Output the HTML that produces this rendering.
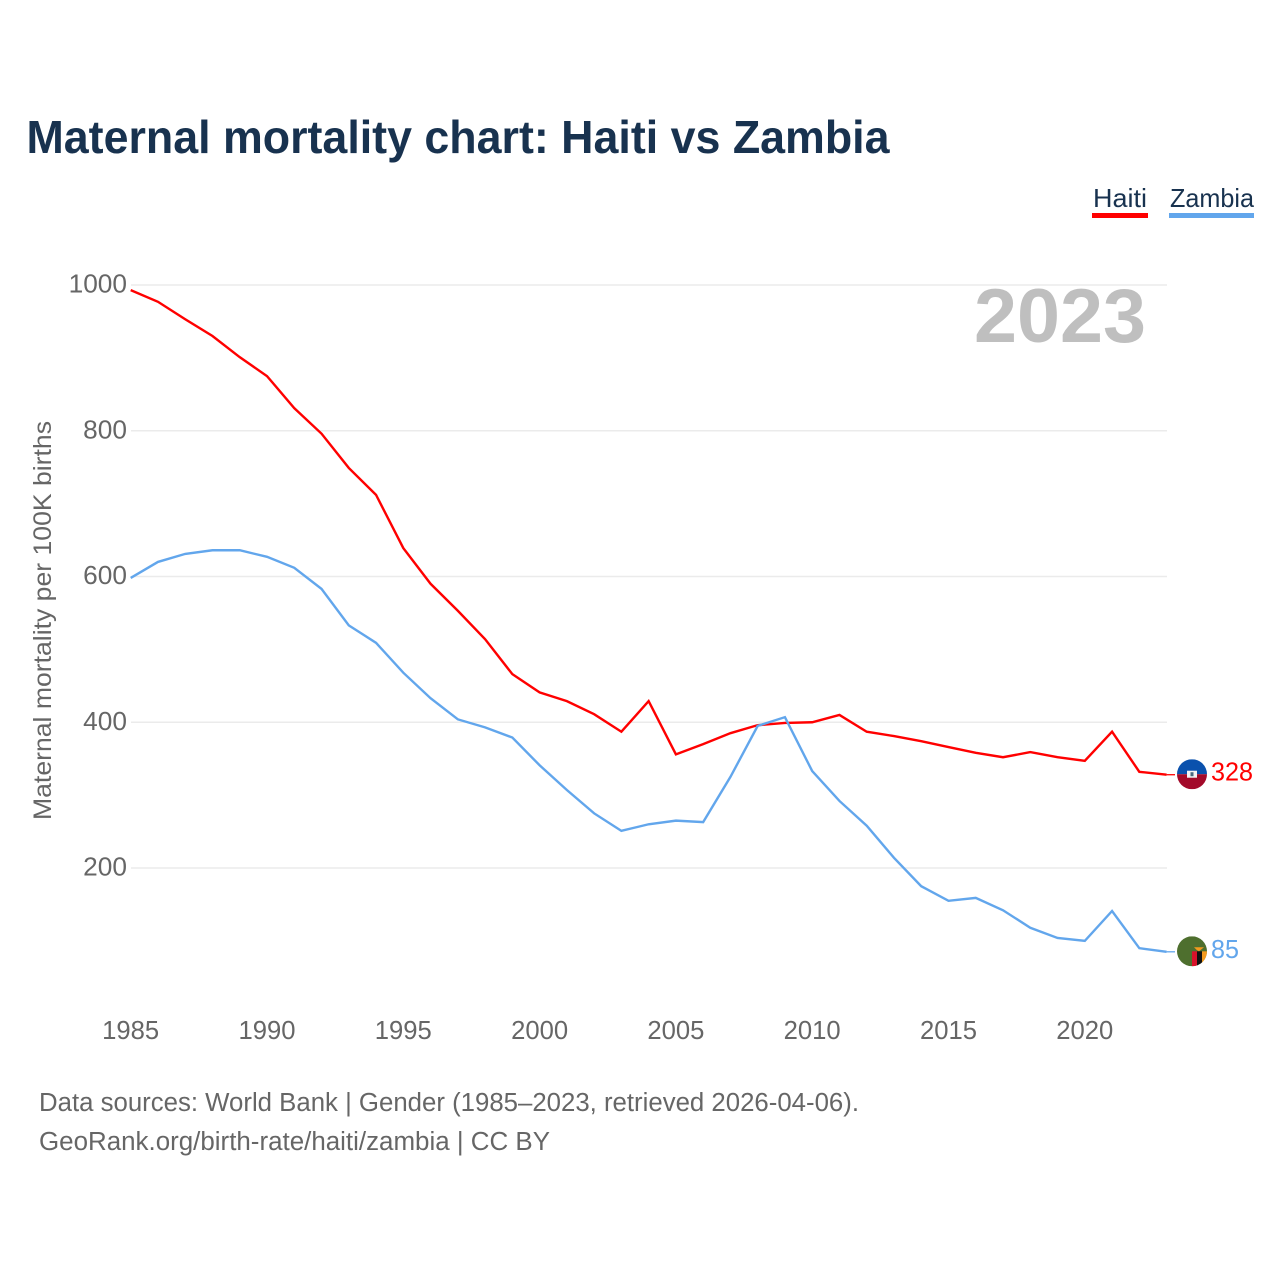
<!DOCTYPE html>
<html lang="en">
<head>
<meta charset="utf-8">
<title>Maternal mortality chart: Haiti vs Zambia</title>
<style>
html,body{margin:0;padding:0;background:#fff;width:1280px;height:1280px;overflow:hidden}
svg{display:block}
text{font-family:"Liberation Sans",sans-serif}
</style>
</head>
<body>
<svg id="chart" xmlns="http://www.w3.org/2000/svg" width="1280" height="1280" viewBox="0 0 1280 1280">
  <defs>
    <clipPath id="clip-haiti"><circle id="clip-haiti-circle" cx="1192" cy="774" r="15"/></clipPath>
    <clipPath id="clip-zambia"><circle id="clip-zambia-circle" cx="1192" cy="951" r="15"/></clipPath>
  </defs>
  <rect x="0" y="0" width="1280" height="1280" fill="#ffffff"/>
  <text x="26.5" y="153" font-size="46" font-weight="700" fill="#18324f" textLength="863" lengthAdjust="spacingAndGlyphs">Maternal mortality chart: Haiti vs Zambia</text>
  <g>
    <text x="1093" y="207" font-size="26" fill="#18324f" textLength="54" lengthAdjust="spacingAndGlyphs">Haiti</text>
    <rect x="1092" y="213" width="56" height="5" fill="#ff0000"/>
  </g>
  <g>
    <text x="1170" y="207" font-size="26" fill="#18324f" textLength="84" lengthAdjust="spacingAndGlyphs">Zambia</text>
    <rect x="1169" y="213" width="85" height="5" fill="#62a6ec"/>
  </g>
  <g id="grid"></g>
  <text x="1146" y="342" text-anchor="end" font-size="76" font-weight="700" fill="#bfbfbf" textLength="172" lengthAdjust="spacingAndGlyphs">2023</text>
  <g id="y-axis"></g>
  <g id="x-axis"></g>
  <text transform="translate(51 820) rotate(-90)" x="0" y="0" font-size="25" fill="#666666" textLength="399" lengthAdjust="spacingAndGlyphs">Maternal mortality per 100K births</text>
  <g id="series"></g>
  <g id="flag-haiti"></g>
  <g id="flag-zambia"></g>
  <text id="value-haiti" x="1211" font-size="25.5" fill="#ff0000" textLength="42" lengthAdjust="spacingAndGlyphs"></text>
  <text id="value-zambia" x="1211" font-size="25.5" fill="#62a6ec" textLength="28" lengthAdjust="spacingAndGlyphs"></text>
  <text x="39" y="1111" font-size="25.5" fill="#666666" textLength="820" lengthAdjust="spacingAndGlyphs">Data sources: World Bank | Gender (1985–2023, retrieved 2026-04-06).</text>
  <text x="39" y="1150" font-size="25.5" fill="#666666" textLength="511" lengthAdjust="spacingAndGlyphs">GeoRank.org/birth-rate/haiti/zambia | CC BY</text>
</svg>
<script>
const years = [1985,1986,1987,1988,1989,1990,1991,1992,1993,1994,1995,1996,1997,1998,1999,2000,2001,2002,2003,2004,2005,2006,2007,2008,2009,2010,2011,2012,2013,2014,2015,2016,2017,2018,2019,2020,2021,2022,2023];
const haitiValues = [993,977,953,930,901,875,831,796,749,712,639,590,553,514,466,441,429,411,387,429,356,370,385,396,399,400,410,387,381,374,366,358,352,359,352,347,387,332,328];
const zambiaValues = [598,620,631,636,636,627,612,583,533,509,468,433,404,393,379,341,307,275,251,260,265,263,325,395,407,333,292,258,214,175,155,159,142,118,104,100,141,90,85];
const yTicks = [200,400,600,800,1000];
const xTicks = [1985,1990,1995,2000,2005,2010,2015,2020];

const NS = 'http://www.w3.org/2000/svg';
const xScale = function (year) { return 130.7 + (year - 1985) * 27.26; };
const yScale = function (value) { return 285 + (1000 - value) * 0.72875; };

function make(tag, attrs, parent) {
  const el = document.createElementNS(NS, tag);
  Object.keys(attrs).forEach(function (k) { el.setAttribute(k, attrs[k]); });
  parent.appendChild(el);
  return el;
}

const grid = document.getElementById('grid');
const yAxis = document.getElementById('y-axis');
const xAxis = document.getElementById('x-axis');
const series = document.getElementById('series');

yTicks.forEach(function (t) {
  const line = make('line', {x1: 131, x2: 1167, y1: yScale(t), y2: yScale(t), stroke: '#ebebeb', 'stroke-width': 1.5}, grid);
  
  
  const label = make('text', {x: 127, y: yScale(t) + 7.5, 'text-anchor': 'end', 'font-size': 25.5, fill: '#666666', textLength: String(t).length * 14.6, lengthAdjust: 'spacingAndGlyphs'}, yAxis);
  label.textContent = t;
  
  
});

xTicks.forEach(function (t) {
  const label = make('text', {x: xScale(t), y: 1039, 'text-anchor': 'middle', 'font-size': 25.5, fill: '#666666', textLength: 57, lengthAdjust: 'spacingAndGlyphs'}, xAxis);
  label.textContent = t;
  
  
});

function drawSeries(values, color, key) {
  const pts = values.map(function (v, i) { return xScale(years[i]).toFixed(2) + ',' + yScale(v).toFixed(2); }).join(' ');
  const line = make('polyline', {points: pts, fill: 'none', stroke: color, 'stroke-width': 2.4, 'stroke-linejoin': 'miter'}, series);
  
  
  const lastIndex = values.length - 1;
  const ly = yScale(values[lastIndex]);
  const conn = make('line', {x1: xScale(years[lastIndex]), x2: 1175, y1: ly, y2: ly, stroke: color, 'stroke-width': 1.3}, series);
  
  
  return ly;
}

const haitiY = drawSeries(haitiValues, '#ff0000', 'haiti');
const zambiaY = drawSeries(zambiaValues, '#62a6ec', 'zambia');

/* flags follow the final value of each series */
function flagRect(parent, x, y, w, h, fill, name) {
  const r = make('rect', {x: x, y: y, width: w, height: h, fill: fill}, parent);
  
  
  return r;
}

const hc = haitiY - 0.5;
document.getElementById('clip-haiti-circle').setAttribute('cy', hc);
const hf = document.getElementById('flag-haiti');
const hg = make('g', {'clip-path': 'url(#clip-haiti)'}, hf);
flagRect(hg, 1177, hc - 15, 30, 15, '#0a51ad', 'flag-haiti-blue');
flagRect(hg, 1177, hc, 30, 15, '#a30a2a', 'flag-haiti-red');
flagRect(hg, 1187, hc - 3.5, 10, 7, '#f4f4f4', 'flag-haiti-panel');
flagRect(hg, 1190.5, hc - 2, 3, 4, '#4a6a80', 'flag-haiti-emblem');

const zc = zambiaY - 0.5;
document.getElementById('clip-zambia-circle').setAttribute('cy', zc);
const zf = document.getElementById('flag-zambia');
const zg = make('g', {'clip-path': 'url(#clip-zambia)'}, zf);
flagRect(zg, 1177, zc - 15, 30, 30, '#4e6f2e', 'flag-zambia-green');
flagRect(zg, 1192, zc, 5, 15, '#d8122a', 'flag-zambia-red');
flagRect(zg, 1197, zc, 5, 15, '#111111', 'flag-zambia-black');
flagRect(zg, 1202, zc, 5, 15, '#f39a1e', 'flag-zambia-orange');
const eagle = make('polygon', {points: [1194, zc - 4, 1204, zc - 4, 1199, zc + 0, 1197, zc - 1].join(' '), fill: '#f39a1e'}, zg);



const hv = document.getElementById('value-haiti');
hv.textContent = haitiValues[haitiValues.length - 1];
hv.setAttribute('y', haitiY + 6);
const zv = document.getElementById('value-zambia');
zv.textContent = zambiaValues[zambiaValues.length - 1];
zv.setAttribute('y', zambiaY + 6);
</script>
</body>
</html>
